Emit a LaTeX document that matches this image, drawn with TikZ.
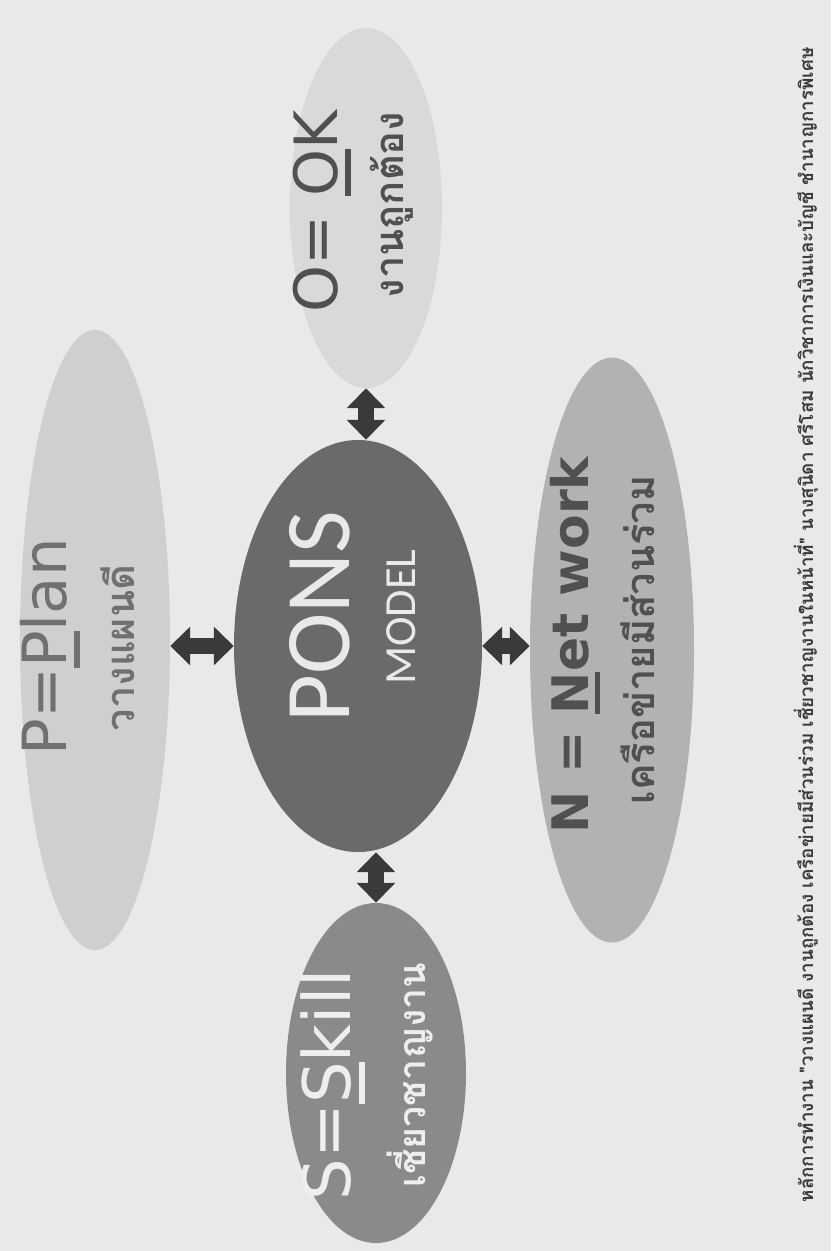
\documentclass[tikz,border=0pt]{standalone}
\usepackage{fontspec}
\setmainfont{DejaVu Sans}
\newfontfamily\thaifont[Script=Thai]{Loma}
\newfontfamily\calfont{Carlito}
\usetikzlibrary{shapes.geometric,arrows.meta}

\definecolor{bgcol}{HTML}{E9E9EB}
\definecolor{plancol}{HTML}{CFCFD1}
\definecolor{okcol}{HTML}{D9D9DB}
\definecolor{ponscol}{HTML}{6A6A6C}
\definecolor{netcol}{HTML}{B2B2B4}
\definecolor{skillcol}{HTML}{8A8A8C}
\definecolor{arrowcol}{HTML}{3A3A3A}
\definecolor{darktxt}{HTML}{505052}
\definecolor{planTxt}{HTML}{707072}
\definecolor{lighttxt}{HTML}{EEEEEE}

% underline under one letter
\newcommand{\ulchar}[1]{\setbox0\hbox{#1}\rlap{\rule[-0.22em]{\wd0}{0.09em}}#1}

\begin{document}
\begin{tikzpicture}[x=0.03cm,y=-0.03cm,
  bubble/.style={ellipse,inner sep=0pt,draw=none},
  txt/.style={rotate=90,inner sep=0pt,anchor=center},
  dblarrow/.style={draw=arrowcol,line width=14pt,
    {Triangle[length=17pt,width=32pt]}-{Triangle[length=17pt,width=32pt]}}]
  % background
  \fill[bgcol] (0,0) rectangle (831,1251);
  % ellipses
  \node[bubble,fill=plancol,minimum width=4.5cm,minimum height=18.6cm] (plan) at (95,640) {};
  \node[bubble,fill=okcol,minimum width=4.56cm,minimum height=10.8cm] (ok) at (366,208) {};
  \node[bubble,fill=ponscol,minimum width=7.44cm,minimum height=12.36cm] (pons) at (358,646) {};
  \node[bubble,fill=netcol,minimum width=4.92cm,minimum height=17.55cm] (net) at (612,650) {};
  \node[bubble,fill=skillcol,minimum width=5.4cm,minimum height=10.2cm] (skill) at (376,1073) {};
  % arrows
  \draw[dblarrow] (pons.west) -- (pons.west -| plan.east);
  \draw[dblarrow] (pons.east) -- (pons.east -| net.west);
  \draw[dblarrow] (ok.south) -- (ok.south |- pons.north);
  \draw[dblarrow] (skill.north) -- (skill.north |- pons.south);
  % texts
  \node[txt,text=ponscol!15] (ponstitle) at (320,617) {\calfont\fontsize{79}{80}\selectfont PONS};
  \node[txt,text=ponscol!15] (ponsmodel) at (401,617) {\calfont\fontsize{38}{40}\selectfont MODEL};
  \node[txt,text=planTxt] (plantitle) at (50,647) {\fontsize{52}{60}\selectfont P=\ulchar{P}lan};
  \node[txt,text=planTxt] (planthai) at (118,648) {\thaifont\bfseries\fontsize{34}{40}\selectfont วางแผนดี};
  \node[txt,text=darktxt] (oktitle) at (322,211) {\fontsize{51}{60}\selectfont O= \ulchar{O}K};
  \node[txt,text=darktxt] (okthai) at (392,205) {\thaifont\bfseries\fontsize{34}{40}\selectfont งานถูกต้อง};
  \node[txt,text=darktxt] (nettitle) at (575,645) {\bfseries\fontsize{43}{50}\selectfont N = \ulchar{N}et work};
  \node[txt,text=darktxt] (netthai) at (638,640) {\thaifont\bfseries\fontsize{34}{40}\selectfont เครือข่ายมีส่วนร่วม};
  \node[txt,text=lighttxt] (skilltitle) at (333,1085) {\fontsize{56}{60}\selectfont S=\ulchar{S}kill};
  \node[txt,text=lighttxt] (skillthai) at (410,1075) {\thaifont\bfseries\fontsize{32}{40}\selectfont เชี่ยวชาญงาน};
  % footer
  \node[txt,text=arrowcol] (footer) at (806,625) {\thaifont\bfseries\fontsize{16}{18}\selectfont หลักการทำงาน "วางแผนดี งานถูกต้อง เครือข่ายมีส่วนร่วม เชี่ยวชาญงานในหน้าที่" นางสุนิดา ศรีโสม นักวิชาการเงินและบัญชี ชำนาญการพิเศษ};
\end{tikzpicture}
\end{document}
